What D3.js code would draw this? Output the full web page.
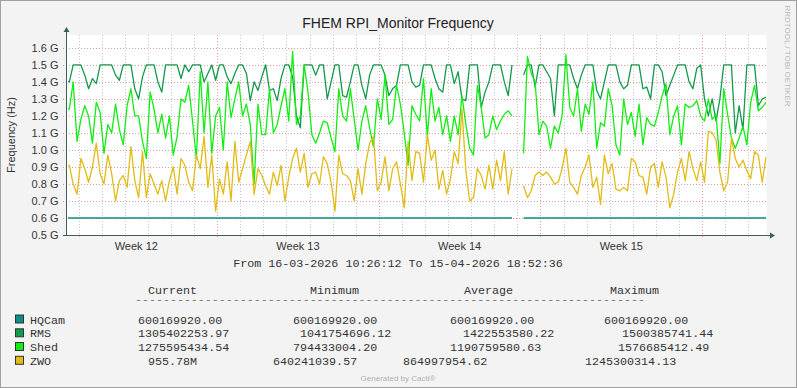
<!DOCTYPE html>
<html>
<head>
<meta charset="utf-8">
<script src="https://cdn.jsdelivr.net/npm/d3@7"></script>
<style>
  body { margin: 0; background: #fff; }
  svg { display: block; }
</style>
</head>
<body>
<svg id="chart" width="797" height="388"></svg>
<script>
// time span of the graph (rrdtool prints it under the plot)
const startTime = new Date(Date.UTC(2026, 2, 16, 10, 26, 12));
const endTime = new Date(Date.UTC(2026, 3, 15, 18, 52, 36));
const stepHours = 4;

// values in GHz, one every 4 hours, null = no data
const hqcam = [
  0.60,0.60,0.60,0.60,0.60,0.60,0.60,0.60,0.60,0.60,0.60,0.60,0.60,0.60,0.60,0.60,0.60,0.60,0.60,0.60,0.60,0.60,0.60,0.60,0.60,0.60,0.60,0.60,0.60,0.60,0.60,
  0.60,0.60,0.60,0.60,0.60,0.60,0.60,0.60,0.60,0.60,0.60,0.60,0.60,0.60,0.60,0.60,0.60,0.60,0.60,0.60,0.60,0.60,0.60,0.60,0.60,0.60,0.60,0.60,0.60,0.60,
  0.60,0.60,0.60,0.60,0.60,0.60,0.60,0.60,0.60,0.60,0.60,0.60,0.60,0.60,0.60,0.60,0.60,0.60,0.60,0.60,0.60,0.60,0.60,0.60,0.60,0.60,0.60,0.60,0.60,0.60,
  0.60,0.60,0.60,0.60,0.60,0.60,0.60,0.60,0.60,0.60,0.60,0.60,0.60,0.60,0.60,0.60,0.60,0.60,0.60,0.60,0.60,0.60,0.60,0.60,0.60,0.60,null,null,0.60,0.60,
  0.60,0.60,0.60,0.60,0.60,0.60,0.60,0.60,0.60,0.60,0.60,0.60,0.60,0.60,0.60,0.60,0.60,0.60,0.60,0.60,0.60,0.60,0.60,0.60,0.60,0.60,0.60,0.60,0.60,0.60,
  0.60,0.60,0.60,0.60,0.60,0.60,0.60,0.60,0.60,0.60,0.60,0.60,0.60,0.60,0.60,0.60,0.60,0.60,0.60,0.60,0.60,0.60,0.60,0.60,0.60,0.60,0.60,0.60,0.60,0.60,0.60,0.60
];
const rms = [
  1.41,1.40,1.50,1.50,1.50,1.44,1.36,1.42,1.39,1.50,1.50,1.50,1.50,1.44,1.41,1.50,1.50,1.50,1.36,1.30,1.43,1.50,1.50,1.50,1.40,1.34,1.50,1.50,1.50,1.50,1.42,
  1.50,1.46,1.50,1.50,1.50,1.40,1.45,1.50,1.41,1.50,1.50,1.43,1.39,1.45,1.50,1.50,1.45,1.29,1.40,1.35,1.43,1.50,1.35,1.36,1.29,1.42,1.50,1.50,1.43,1.20,
  1.13,1.50,1.50,1.50,1.44,1.50,1.50,1.30,1.40,1.50,1.50,1.32,1.31,1.40,1.50,1.50,1.38,1.30,1.44,1.50,1.50,1.50,1.44,1.32,1.36,1.38,1.50,1.50,1.50,1.40,
  1.37,1.38,1.50,1.50,1.50,1.42,1.36,1.34,1.50,1.50,1.39,1.46,1.30,1.29,1.50,1.50,1.50,1.25,1.34,1.40,1.50,1.50,1.50,1.40,1.32,1.50,null,null,1.44,1.50,
  1.50,1.37,1.50,1.50,1.46,1.42,1.20,1.50,1.50,1.50,1.50,1.42,1.36,1.44,1.50,1.50,1.50,1.35,1.30,1.40,1.50,1.50,1.50,1.40,1.36,1.38,1.50,1.50,1.50,1.36,
  1.37,1.30,1.50,1.50,1.46,1.32,1.38,1.44,1.50,1.50,1.50,1.40,1.36,1.48,1.50,1.30,1.20,1.30,1.17,1.30,1.50,1.50,1.50,1.10,1.26,1.12,1.50,1.50,1.50,1.26,1.30,1.31
];
const shed = [
  1.25,1.24,1.40,1.05,1.18,1.26,1.20,1.04,1.28,1.22,0.98,1.15,1.10,1.27,1.12,1.03,1.26,1.36,1.20,1.20,1.05,0.95,1.34,1.24,1.10,1.21,1.07,1.20,0.97,1.08,1.30,
  1.28,1.38,1.17,0.95,1.46,1.10,1.40,0.98,1.20,1.25,1.00,1.40,1.19,1.30,1.40,1.20,1.27,1.15,0.80,1.27,1.09,1.09,1.36,1.10,1.15,1.26,1.36,1.17,1.58,1.15,
  1.20,1.50,1.34,1.09,1.04,1.10,1.17,1.16,1.07,0.99,1.36,1.20,1.17,1.36,1.18,1.00,1.17,1.26,1.13,1.02,1.30,1.18,1.44,1.15,1.18,1.38,1.27,1.10,0.91,1.26,
  1.21,1.17,1.42,1.08,1.36,1.17,1.25,1.09,1.20,1.05,1.20,1.09,1.32,1.15,1.01,0.97,1.38,1.25,1.07,1.09,1.20,1.12,1.17,1.21,1.23,1.20,null,null,0.98,1.55,
  1.45,1.40,1.09,1.17,1.14,1.01,1.14,1.10,1.20,1.56,1.25,1.20,1.36,1.11,1.27,1.21,1.40,1.01,1.16,1.14,1.36,1.26,1.03,0.97,1.30,1.15,1.22,1.08,1.27,1.03,
  1.19,1.15,1.14,1.22,1.32,1.39,1.09,1.20,1.26,1.03,1.27,1.25,1.26,1.29,1.20,1.17,1.30,1.18,1.21,0.92,1.36,1.21,1.07,1.01,1.07,1.14,1.03,1.28,1.38,1.23,1.25,1.28
];
const zwo = [
  0.90,0.91,0.80,0.74,0.95,0.89,0.81,0.90,1.04,0.86,0.80,0.97,0.86,0.70,0.82,0.85,0.78,1.02,0.82,0.72,0.99,0.72,0.86,0.80,0.74,0.82,0.70,0.82,0.90,0.74,0.95,
  0.91,0.81,0.76,0.97,0.89,1.08,0.78,0.97,0.64,0.83,0.74,0.93,0.70,1.05,0.81,0.89,0.97,1.05,0.74,0.89,0.85,0.79,0.74,0.87,0.79,0.91,0.70,0.84,0.95,1.01,
  0.87,0.98,0.78,0.86,0.87,0.80,0.96,0.92,0.81,0.64,0.97,0.86,0.85,0.82,0.70,0.89,0.74,0.92,1.04,1.08,0.76,0.81,0.96,0.76,0.89,0.93,0.80,0.66,1.05,0.82,
  0.99,0.98,0.81,1.09,0.94,1.00,0.77,0.88,0.74,0.83,0.99,0.92,1.24,0.88,0.70,0.72,0.89,0.85,0.77,0.91,0.77,0.94,0.82,0.99,0.74,0.89,null,null,0.79,0.72,
  0.76,0.85,0.87,0.85,0.87,0.84,0.80,0.81,0.89,1.01,0.81,0.78,0.74,0.85,0.90,0.97,0.78,0.84,0.68,0.97,0.86,0.92,0.77,0.76,0.78,0.76,0.95,0.93,0.85,0.84,
  0.74,0.90,0.92,0.78,0.93,0.84,0.66,0.74,0.87,0.95,0.82,0.99,0.89,0.82,0.93,0.81,1.11,1.10,1.06,0.87,0.76,0.81,1.07,0.95,0.90,0.94,0.88,0.83,0.99,0.97,0.81,0.96
];

const seriesNames = ['HQCam', 'RMS', 'Shed', 'ZWO'];
const seriesColors = ['#0b8f84', '#129a4c', '#11ee11', '#e2bb14'];
const yTicks = [0.5, 0.6, 0.7, 0.8, 0.9, 1.0, 1.1, 1.2, 1.3, 1.4, 1.5, 1.6];

// legend table (printed by rrdtool GPRINT)
const legendHeaders = ['Current', 'Minimum', 'Average', 'Maximum'];
const legendCurrent = ['600169920.00', '1305402253.97', '1275595434.54', '955.78M'];
const legendMinimum = ['600169920.00', '1041754696.12', '794433004.20', '640241039.57'];
const legendAverage = ['600169920.00', '1422553580.22', '1190759580.63', '864997954.62'];
const legendMaximum = ['600169920.00', '1500385741.44', '1576685412.49', '1245300314.13'];

const W = 797, H = 388;
const plot = {left: 67, right: 766.5, top: 35, bottom: 235};
const sans = '"Liberation Sans", Arial, sans-serif';
const mono = '"Liberation Mono", "Courier New", monospace';

const svg = d3.select('#chart');

const x = d3.scaleUtc().domain([startTime, endTime]).range([65.5, 766.5]);
const y = d3.scaleLinear().domain([0.5, 1.676]).range([plot.bottom, plot.top]);

// canvas
svg.append('rect').attr('x', 0.5).attr('y', 0.5).attr('width', W - 1).attr('height', H - 1)
  .attr('fill', '#f3f3f3').attr('stroke', '#a0a0a0');
svg.append('rect').attr('x', plot.left).attr('y', plot.top)
  .attr('width', plot.right - plot.left).attr('height', plot.bottom - plot.top).attr('fill', '#fff');

// grid
const days = x.ticks(d3.utcDay.every(1)).filter(d => d3.utcMonday.floor(d).getTime() !== d.getTime());
const mondays = x.ticks(d3.utcMonday.every(1));
const grid = svg.append('g');
grid.selectAll('.dayline').data(days).enter().append('line')
  .attr('x1', d => Math.round(x(d)) + 0.5).attr('x2', d => Math.round(x(d)) + 0.5)
  .attr('y1', plot.top).attr('y2', plot.bottom + 2)
  .attr('stroke', '#c8c8c8').attr('stroke-dasharray', '1,2');
grid.selectAll('.hline').data(yTicks).enter().append('line')
  .attr('x1', plot.left - 4).attr('x2', plot.right)
  .attr('y1', d => Math.round(y(d)) + 0.5).attr('y2', d => Math.round(y(d)) + 0.5)
  .attr('stroke', '#e49a9a').attr('stroke-dasharray', '1,2');
grid.selectAll('.weekline').data(mondays).enter().append('line')
  .attr('x1', d => Math.round(x(d)) + 0.5).attr('x2', d => Math.round(x(d)) + 0.5)
  .attr('y1', plot.top).attr('y2', plot.bottom + 3)
  .attr('stroke', '#e49a9a').attr('stroke-dasharray', '1,2');

// series
svg.append('clipPath').attr('id', 'clip').append('rect')
  .attr('x', plot.left + 1).attr('y', plot.top).attr('width', plot.right - plot.left - 1).attr('height', plot.bottom - plot.top);
const allSeries = [hqcam, rms, shed, zwo];
const line = d3.line()
  .defined(d => d != null)
  .x((d, i) => x(d3.utcHour.offset(startTime, i * stepHours)))
  .y(d => y(d));
svg.append('g').attr('clip-path', 'url(#clip)')
  .selectAll('path').data(allSeries).enter().append('path')
  .attr('d', d => line(d))
  .attr('fill', 'none')
  .attr('stroke', (d, i) => seriesColors[i])
  .attr('stroke-width', 1.3)
  .attr('stroke-linejoin', 'round');

// axes
const axisColor = '#3f5f56';
svg.append('line').attr('x1', plot.left - 0.5).attr('x2', plot.left - 0.5)
  .attr('y1', plot.bottom + 0.5).attr('y2', 31).attr('stroke', axisColor);
svg.append('line').attr('x1', plot.left - 4).attr('x2', 771)
  .attr('y1', plot.bottom + 0.5).attr('y2', plot.bottom + 0.5).attr('stroke', axisColor);
svg.append('path').attr('d', `M${plot.left - 3.5},32 L${plot.left - 0.5},27 L${plot.left + 2.5},32 Z`).attr('fill', axisColor);
svg.append('path').attr('d', `M770,${plot.bottom - 2.5} L775,${plot.bottom + 0.5} L770,${plot.bottom + 3.5} Z`).attr('fill', axisColor);

// y labels
svg.append('g').selectAll('text').data(yTicks).enter().append('text')
  .attr('x', 58.5).attr('y', d => y(d) + 4)
  .attr('text-anchor', 'end').attr('font-family', sans).attr('font-size', 11).attr('fill', '#333')
  .text(d => d3.format('.1f')(d) + ' G');

// week labels, centred on each week that is inside the plot
const weekStarts = [d3.utcMonday.floor(startTime)].concat(mondays)
  .filter(d => x(d3.utcHour.offset(d, 84)) < plot.right);
svg.append('g').selectAll('text').data(weekStarts).enter().append('text')
  .attr('x', d => x(d3.utcHour.offset(d, 84)))
  .attr('y', 249.5)
  .attr('text-anchor', 'middle').attr('font-family', sans).attr('font-size', 11).attr('fill', '#333')
  .text(d => 'Week ' + d3.utcFormat('%V')(d));

// title and side texts
svg.append('text').attr('x', 398).attr('y', 28).attr('text-anchor', 'middle')
  .attr('font-family', sans).attr('font-size', 14).attr('fill', '#222')
  .text('FHEM RPI_Monitor Frequency');
svg.append('text').attr('transform', 'translate(15,135) rotate(-90)').attr('text-anchor', 'middle')
  .attr('font-family', sans).attr('font-size', 11).attr('fill', '#333')
  .text('Frequency (Hz)');
svg.append('text').attr('transform', 'translate(785,56) rotate(90)').attr('text-anchor', 'middle')
  .attr('font-family', sans).attr('font-size', 8).attr('fill', '#b8b8b8')
  .text('RRDTOOL / TOBI OETIKER');

const fmtDate = d3.utcFormat('%d-%m-%Y %H:%M:%S');
svg.append('text').attr('x', 398).attr('y', 267).attr('text-anchor', 'middle')
  .attr('font-family', mono).attr('font-size', 11.7).attr('fill', '#333')
  .text(`From ${fmtDate(startTime)} To ${fmtDate(endTime)}`);

// legend
const headerX = [148, 310, 464, 610];
svg.append('g').selectAll('text').data(legendHeaders).enter().append('text')
  .attr('x', (d, i) => headerX[i]).attr('y', 294)
  .attr('font-family', mono).attr('font-size', 11.7).attr('fill', '#333').text(d => d);
// dashed rule under the headers, squashed so it does not run into them
svg.append('text').attr('transform', 'translate(135,302.2) scale(1,0.5)')
  .attr('font-family', mono).attr('font-size', 11.7).attr('font-weight', 'bold').attr('fill', '#555')
  .attr('textLength', 510).text('-'.repeat(73));

const rowY = [319.5, 333.3, 347, 360.8];
const columns = [legendCurrent, legendMinimum, legendAverage, legendMaximum];
const columnX = [
  [138, 138, 138, 148],
  [293, 300, 293, 273],
  [450, 463, 450, 403],
  [604, 622, 618, 585]
];
const rows = svg.append('g');
seriesNames.forEach((name, r) => {
  rows.append('rect').attr('x', 15.5).attr('y', rowY[r] - 4.5).attr('width', 8).attr('height', 8)
    .attr('fill', seriesColors[r]).attr('stroke', '#333');
  rows.append('text').attr('x', 30).attr('y', rowY[r] + 4)
    .attr('font-family', mono).attr('font-size', 11.7).attr('fill', '#333').text(name);
  columns.forEach((col, c) => {
    rows.append('text').attr('x', columnX[c][r]).attr('y', rowY[r] + 4)
      .attr('font-family', mono).attr('font-size', 11.7).attr('fill', '#333').text(col[r]);
  });
});

svg.append('text').attr('x', 398).attr('y', 381).attr('text-anchor', 'middle')
  .attr('font-family', sans).attr('font-size', 8).attr('fill', '#b0b0b0')
  .text('Generated by Cacti®');
</script>
</body>
</html>
